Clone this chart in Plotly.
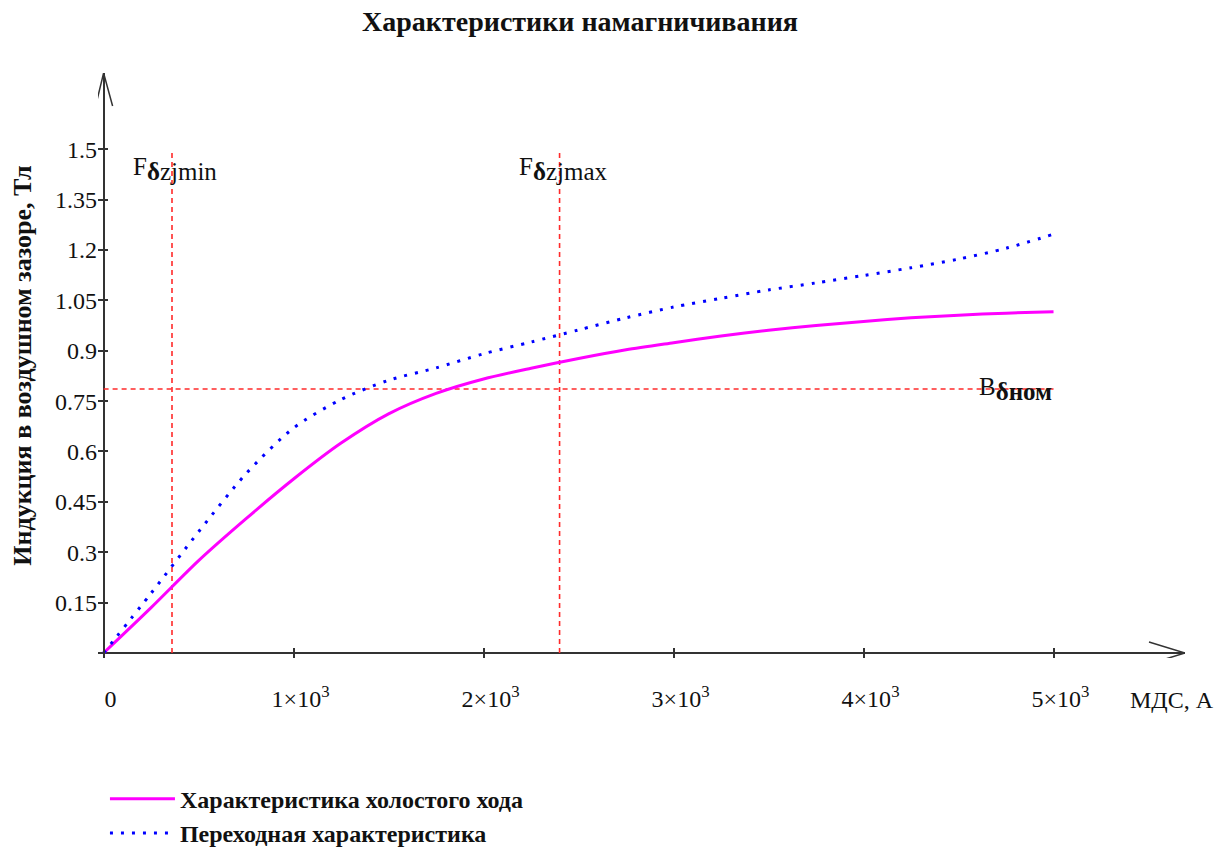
import plotly.graph_objects as go

# Magnetising force (MMF), A
mmf = [0, 250, 500, 750, 1000, 1250, 1500, 1750, 2000, 2250, 2500,
       2750, 3000, 3250, 3500, 3750, 4000, 4250, 4500, 4750, 5000]

# Air-gap flux density, T: no-load characteristic
b_no_load = [0, 0.135, 0.275, 0.400, 0.518, 0.625, 0.712, 0.773, 0.816, 0.848, 0.877,
             0.903, 0.924, 0.944, 0.961, 0.975, 0.987, 0.998, 1.006, 1.012, 1.016]

# Air-gap flux density, T: transition characteristic
b_transition = [0, 0.178, 0.361, 0.534, 0.670, 0.755, 0.812, 0.849, 0.891, 0.926, 0.962,
                0.998, 1.030, 1.056, 1.081, 1.102, 1.124, 1.147, 1.173, 1.205, 1.247]

# Reference values
f_zj_min = 360
f_zj_max = 2400
b_nom = 0.786

x_ticks = [0, 1000, 2000, 3000, 4000, 5000]
x_tick_text = ["0", "1×10<sup>3</sup>", "2×10<sup>3</sup>", "3×10<sup>3</sup>",
               "4×10<sup>3</sup>", "5×10<sup>3</sup>"]
y_ticks = [0.15, 0.3, 0.45, 0.6, 0.75, 0.9, 1.05, 1.2, 1.35, 1.5]
y_tick_text = ["0.15", "0.3", "0.45", "0.6", "0.75", "0.9", "1.05", "1.2", "1.35", "1.5"]

X_RANGE = [-29.5, 5692]
Y_RANGE = [-0.0149, 1.727]
B_TOP = 1.5
F_END = 5000

FONT = "Liberation Serif, Times New Roman, serif"
INK = "#111111"
RED = "#ff2a2a"
DASH = "5px,4px"

fig = go.Figure()

# Dashed reference lines
for xs, ys in (([f_zj_min, f_zj_min], [0, B_TOP]),
               ([f_zj_max, f_zj_max], [0, B_TOP]),
               ([0, F_END], [b_nom, b_nom])):
    fig.add_trace(go.Scatter(x=xs, y=ys, mode="lines",
                             line=dict(color=RED, width=1.6, dash=DASH),
                             showlegend=False, hoverinfo="skip"))

# Magnetisation curves
fig.add_trace(go.Scatter(x=mmf, y=b_no_load, mode="lines",
                         name="<b>Характеристика холостого хода</b>",
                         line=dict(color="#ff00ff", width=3, shape="spline", smoothing=0.8)))
fig.add_trace(go.Scatter(x=mmf, y=b_transition, mode="lines",
                         name="<b>Переходная характеристика</b>",
                         line=dict(color="#0000ff", width=3, shape="spline", smoothing=0.8,
                                   dash="3px,8px")))

axis_common = dict(
    showgrid=False, showline=False, automargin=False,
    zeroline=True, zerolinecolor="#333333", zerolinewidth=2,
    ticks="inside", ticklen=10, tickwidth=1.5, tickcolor="#333333",
    tickfont=dict(family=FONT, size=24, color=INK),
)

fig.update_layout(
    width=1226, height=850,
    margin=dict(l=98, r=41, t=73, b=192, autoexpand=False),
    paper_bgcolor="white", plot_bgcolor="white",
    font=dict(family=FONT, color=INK),
    title=dict(text="<b>Характеристики намагничивания</b>", x=580 / 1226, xanchor="center",
               xref="container", y=1 - 21 / 850, yref="container", yanchor="middle",
               font=dict(family=FONT, size=28, color=INK)),
    xaxis=dict(range=X_RANGE, tickvals=x_ticks, ticktext=x_tick_text,
               ticklabelstandoff=24, ticklabelshift=7, **axis_common),
    yaxis=dict(range=Y_RANGE, tickvals=y_ticks, ticktext=y_tick_text,
               ticklabelstandoff=0,
               title=dict(text="<b>Индукция в воздушном зазоре, Тл</b>", standoff=15,
                          font=dict(family=FONT, size=26, color=INK)),
               **axis_common),
    legend=dict(x=0.0064, y=-0.203, xanchor="left", yanchor="top", itemwidth=65,
                font=dict(family=FONT, size=24, color=INK),
                bgcolor="rgba(0,0,0,0)", tracegroupgap=0),
    showlegend=True,
)

# Open arrowheads at the ends of both axes
fig.add_shape(type="path", xref="x", yref="y", xsizemode="pixel", ysizemode="pixel",
              xanchor=X_RANGE[1], yanchor=0, path="M-36,11 L0,0 L-36,-11",
              line=dict(color="#333333", width=1.5))
fig.add_shape(type="path", xref="x", yref="y", xsizemode="pixel", ysizemode="pixel",
              xanchor=0, yanchor=Y_RANGE[1], path="M-8,-33 L0,0 L9,-33",
              line=dict(color="#333333", width=1.5))

# Labels for reference lines and the abscissa
SUB = '<span style="font-size:25px">{}</span>'
fig.add_annotation(x=f_zj_min, y=B_TOP, xref="x", yref="y", xanchor="left", yanchor="top",
                   xshift=-41, yshift=-2, showarrow=False,
                   text="F<sub>" + SUB.format("<b>δ</b>zjmin") + "</sub>",
                   font=dict(family=FONT, size=25, color=INK))
fig.add_annotation(x=f_zj_max, y=B_TOP, xref="x", yref="y", xanchor="left", yanchor="top",
                   xshift=-43, yshift=-2, showarrow=False,
                   text="F<sub>" + SUB.format("<b>δ</b>zjmax") + "</sub>",
                   font=dict(family=FONT, size=25, color=INK))
fig.add_annotation(x=F_END, y=b_nom, xref="x", yref="y", xanchor="left", yanchor="middle",
                   xshift=-77, yshift=0, showarrow=False,
                   text="B<sub>" + SUB.format("<b>δном</b>") + "</sub>",
                   font=dict(family=FONT, size=25, color=INK))
fig.add_annotation(x=X_RANGE[1], y=0, xref="x", yref="y", xanchor="right", yanchor="middle",
                   xshift=31, yshift=-47, showarrow=False, text="МДС, А",
                   font=dict(family=FONT, size=24, color=INK))

fig.write_html("out.html")
